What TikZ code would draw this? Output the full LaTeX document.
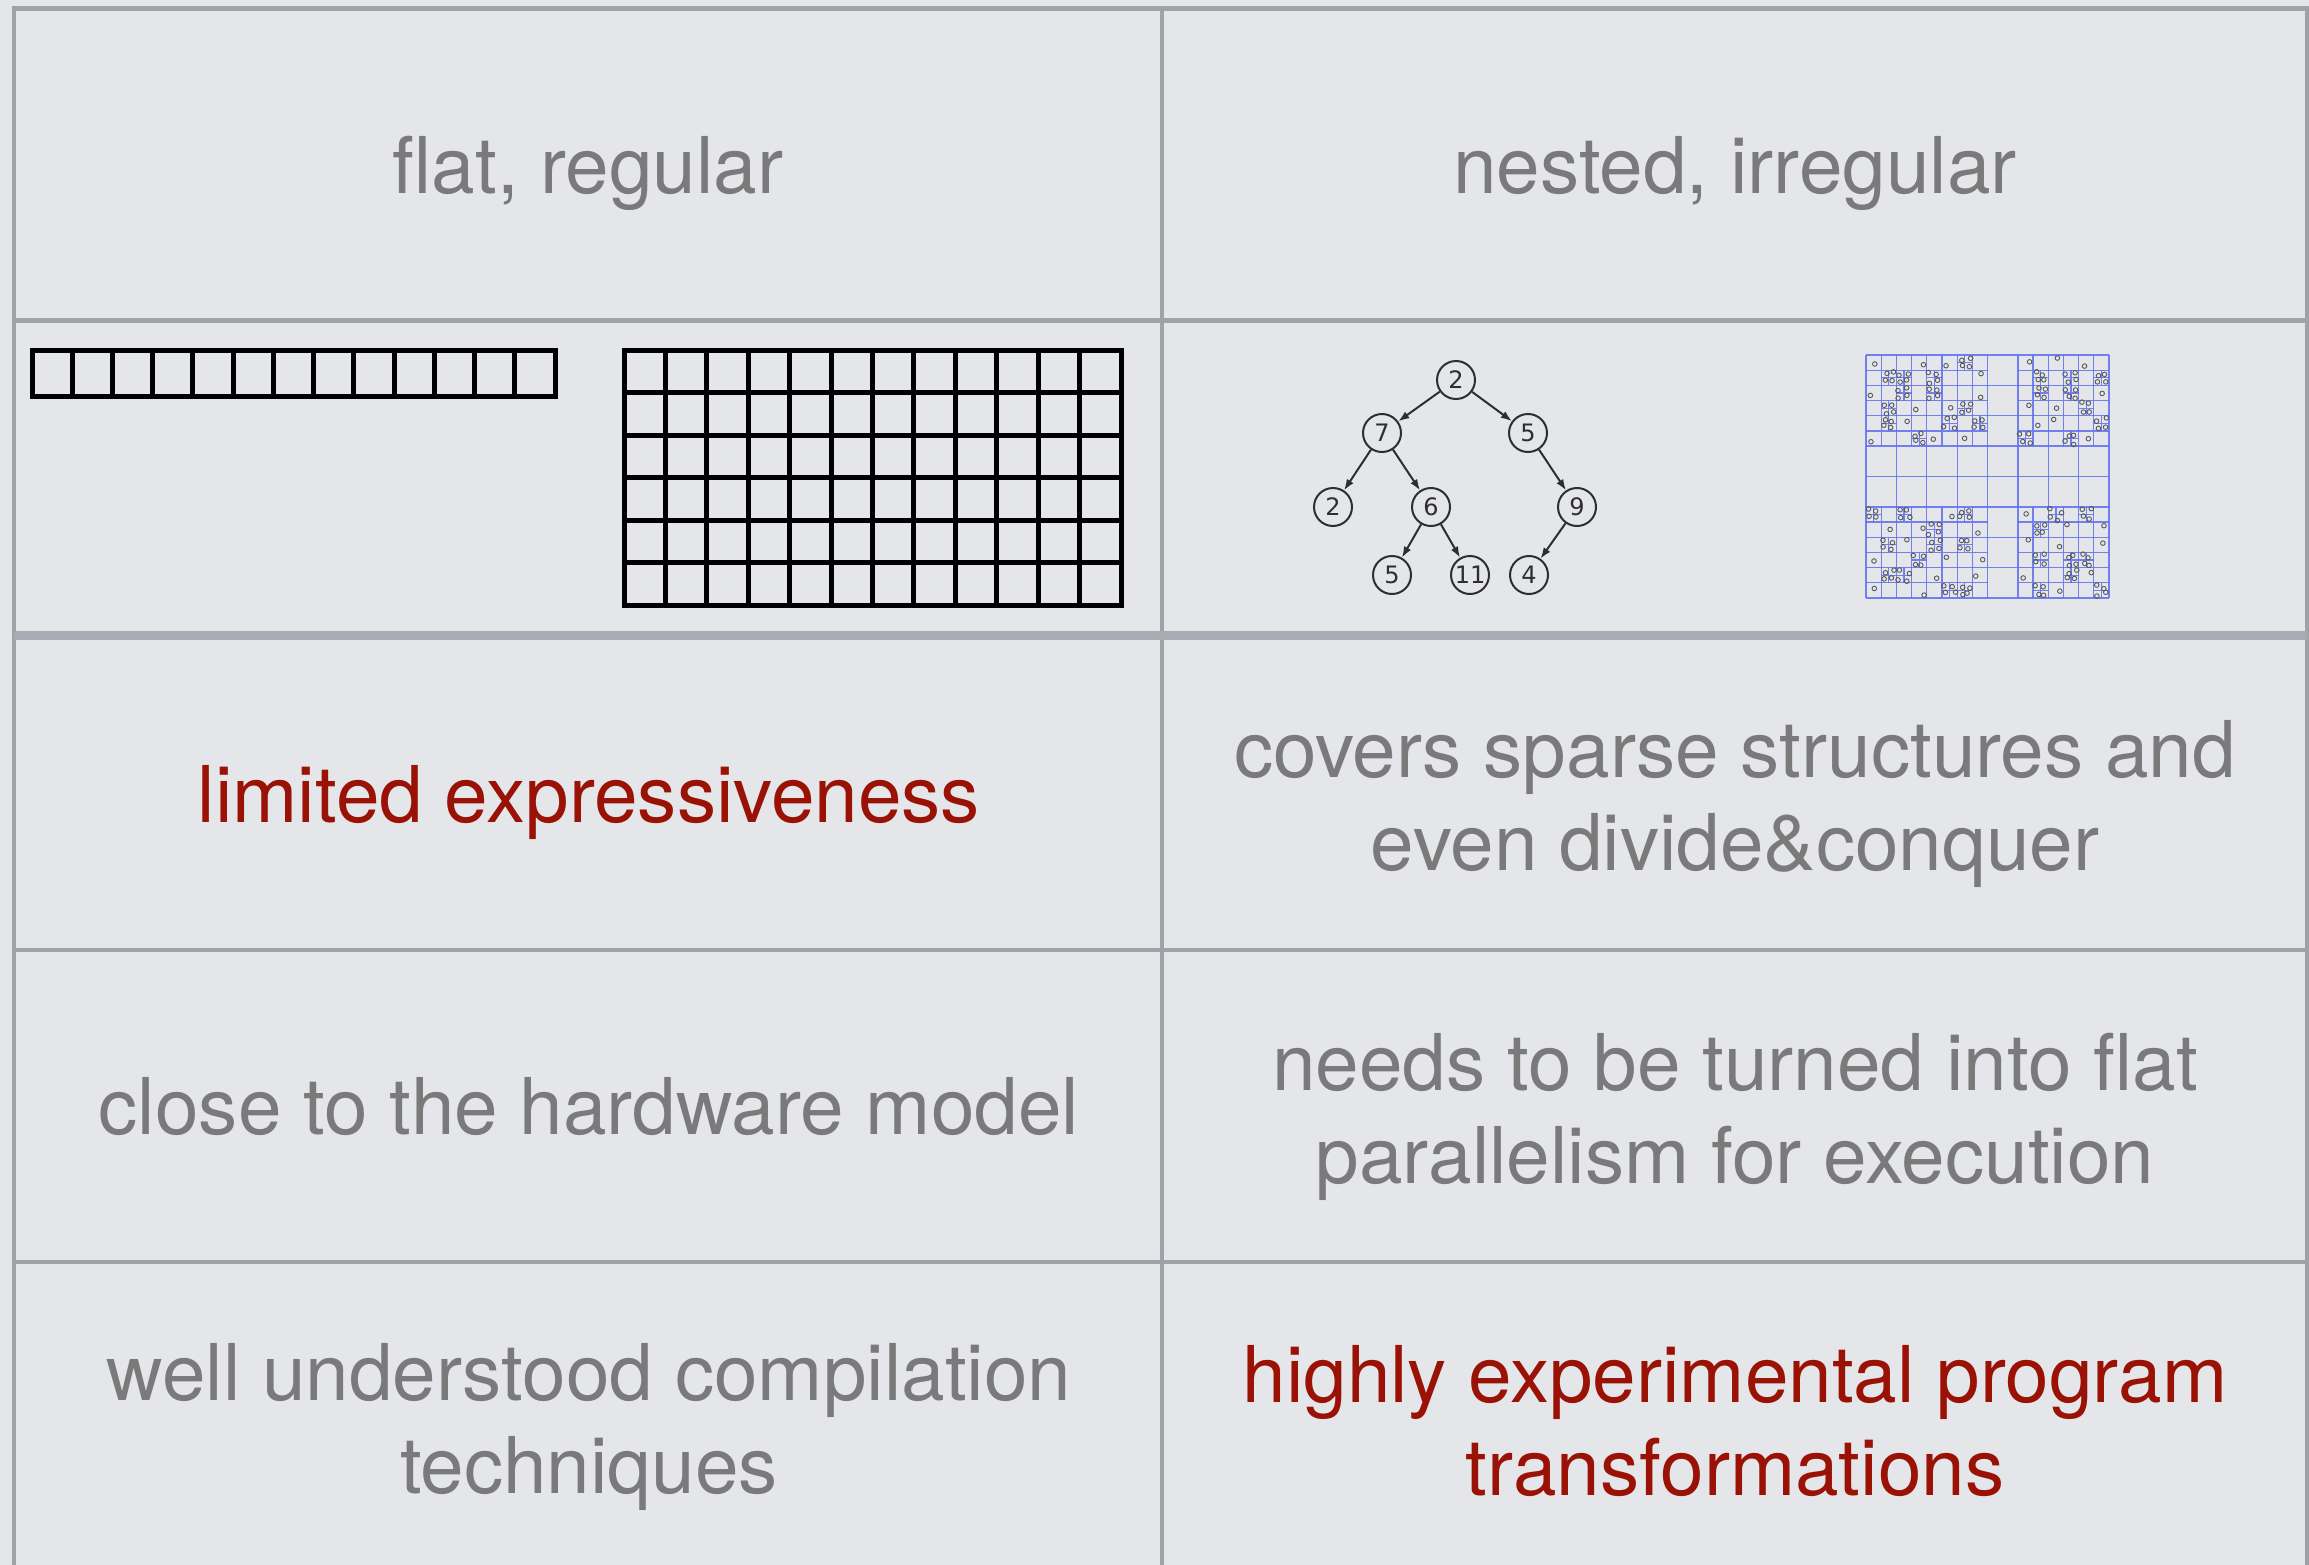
\documentclass[tikz,border=0pt]{standalone}
\usepackage{fontspec}
\setmainfont{TeX Gyre Heros}
\newfontfamily\treefont{DejaVu Sans}
\usetikzlibrary{arrows.meta}
\definecolor{bgc}{HTML}{E4E6EA}
\definecolor{rulec}{HTML}{A0A2A8}
\definecolor{rulet}{HTML}{A8ABB2}
\definecolor{txtg}{HTML}{7A7A7A}
\definecolor{txtr}{HTML}{9A1205}
\definecolor{qblue}{RGB}{95,110,240}
\definecolor{treeink}{HTML}{2E2E2E}
\begin{document}
\begin{tikzpicture}[x=1pt,y=-1pt,
  tabrule/.style={draw=rulec,line width=4.5pt},
  thickrule/.style={draw=rulet,line width=9pt},
  cellbox/.style={draw=black,line width=5pt,line join=miter},
  celltext/.style={align=center,inner sep=0pt,text=txtg,font=\fontsize{78.3}{93}\selectfont},
  redtext/.style={celltext,text=txtr},
  treenode/.style={circle,draw=treeink,line width=2pt,minimum size=38pt,inner sep=0pt,text=treeink,font=\treefont\fontsize{24}{24}\selectfont},
  treeedge/.style={draw=treeink,line width=2pt,-{Latex[length=11pt,width=8pt]}},
  qline/.style={draw=qblue,line width=1.3pt,opacity=0.85},
  qpt/.style={draw=black!65,line width=0.9pt}
]
\useasboundingbox (0,0) rectangle (2309,1565);
\fill[bgc] (0,0) rectangle (2309,1565);

% table rules
\draw[tabrule] (14,1565) -- (14,8.5) -- (2307,8.5) -- (2307,1565);
\draw[tabrule] (1162,8.5) -- (1162,1565);
\draw[tabrule] (14,320.5) -- (2307,320.5);
\draw[thickrule] (14,635) -- (2307,635);
\draw[tabrule] (14,950) -- (2307,950);
\draw[tabrule] (14,1262) -- (2307,1262);

% texts
\node[celltext] (h1) at (588,173) {flat, regular};
\node[celltext] (h2) at (1735,173) {nested, irregular};
\node[redtext] (a1) at (589,802) {limited expressiveness};
\node[celltext] (a2) at (1735,804) {covers sparse structures and\\even divide\&conquer};
\node[celltext] (b1) at (589,1107) {close to the hardware model};
\node[celltext] (b2) at (1735,1117) {needs to be turned into flat\\parallelism for execution};
\node[celltext] (c1) at (589,1427) {well understood compilation\\techniques};
\node[redtext] (c2) at (1735,1421) {highly experimental program\\transformations};

% linear array
\draw[cellbox] (32,350) rectangle (555,396);
\foreach \i in {1,...,12} \draw[cellbox] ({32+\i*523/13},350) -- ({32+\i*523/13},396);

% 2D grid
\draw[cellbox] (624,350) rectangle (1121,605);
\foreach \i in {1,...,11} \draw[cellbox] ({624+\i*497/12},350) -- ({624+\i*497/12},605);
\foreach \j in {1,...,5} \draw[cellbox] (624,{350+\j*255/6}) -- (1121,{350+\j*255/6});

% tree
\node[treenode] (t1) at (1456,380) {2};
\node[treenode] (t2) at (1382,433) {7};
\node[treenode] (t3) at (1528,433) {5};
\node[treenode] (t4) at (1333,507) {2};
\node[treenode] (t5) at (1431,507) {6};
\node[treenode] (t6) at (1577,507) {9};
\node[treenode] (t7) at (1392,575) {5};
\node[treenode] (t8) at (1470,575) {11};
\node[treenode] (t9) at (1529,575) {4};
\draw[treeedge] (t1) -- (t2);
\draw[treeedge] (t1) -- (t3);
\draw[treeedge] (t2) -- (t4);
\draw[treeedge] (t2) -- (t5);
\draw[treeedge] (t5) -- (t7);
\draw[treeedge] (t5) -- (t8);
\draw[treeedge] (t3) -- (t6);
\draw[treeedge] (t6) -- (t9);

% quadtree
\pgfmathsetseed{11}
\begin{scope}[shift={(1866,355)},x=30.375pt,y=-30.375pt]
  \foreach \i in {0,...,8} {
    \draw[qline] (\i,0) -- (\i,8);
    \draw[qline] (0,\i) -- (8,\i);
  }
  \foreach \qc in {0,1,2,3,5,6,7} {
    \foreach \qr in {0,1,2,5,6,7} {
      \draw[qline] (\qc+0.5,\qr) -- (\qc+0.5,\qr+1) (\qc,\qr+0.5) -- (\qc+1,\qr+0.5);
      \pgfmathrandominteger{\q}{0}{3}
      \pgfmathsetmacro{\sx}{\qc+0.5*mod(\q,2)}
      \pgfmathsetmacro{\sy}{\qr+0.5*floor(\q/2)}
      \draw[qline] (\sx+0.25,\sy) -- (\sx+0.25,\sy+0.5) (\sx,\sy+0.25) -- (\sx+0.5,\sy+0.25);
      \foreach \k in {0,1,2,3} {
        \pgfmathsetmacro{\px}{\sx+0.25*mod(\k,2)+0.05+0.15*rnd}
        \pgfmathsetmacro{\py}{\sy+0.25*floor(\k/2)+0.05+0.15*rnd}
        \draw[qpt] (\px,\py) circle[radius=2.3pt];
      }
      \pgfmathsetmacro{\ox}{\qc+0.5*(1-mod(\q,2))+0.08+0.34*rnd}
      \pgfmathsetmacro{\oy}{\qr+0.5*(1-floor(\q/2))+0.08+0.34*rnd}
      \draw[qpt] (\ox,\oy) circle[radius=2.3pt];
    }
  }
\end{scope}
\end{tikzpicture}
\end{document}
